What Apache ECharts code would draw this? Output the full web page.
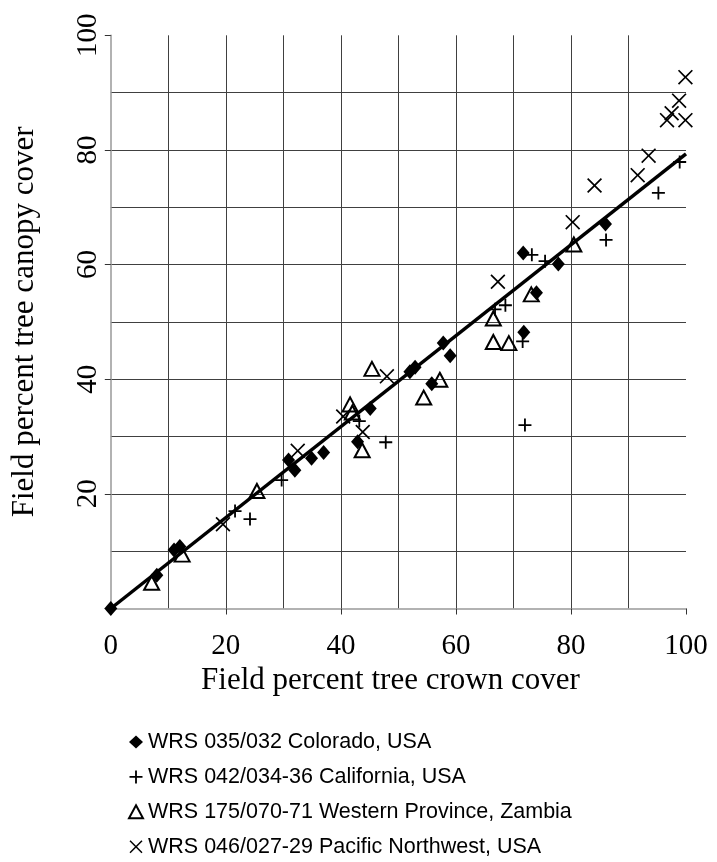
<!DOCTYPE html>
<html><head><meta charset="utf-8">
<script src="https://cdn.jsdelivr.net/npm/echarts@6/dist/echarts.min.js"></script>
<style>html,body{margin:0;padding:0;background:#fff}#c{width:717px;height:862px}</style>
</head><body><div id="c"></div>
<script>
// ---- data ----
const seriesNames = [
  'WRS 035/032 Colorado, USA',
  'WRS 042/034-36 California, USA',
  'WRS 175/070-71 Western Province, Zambia',
  'WRS 046/027-29 Pacific Northwest, USA'
];
const coloradoX = [0, 8, 11, 12, 30.9, 32, 34.9, 37, 42.9, 45.1, 52, 52.9, 55.8, 57.8, 59, 71.7, 71.8, 74, 77.8, 86];
const coloradoY = [0, 5.8, 10.2, 10.8, 25.9, 24.1, 26.2, 27.2, 29.1, 34.9, 41.3, 42.1, 39.2, 46.3, 44.1, 62, 48.2, 55.1, 60.1, 67.1];
const californiaX = [21.6, 24.2, 29.7, 43.2, 47.8, 66.8, 68.6, 71.6, 72, 73.2, 75.5, 86.1, 95.2, 98.9];
const californiaY = [17, 15.6, 22.4, 32.7, 29, 52.2, 52.9, 46.6, 32, 61.7, 60.6, 64.3, 72.5, 77.9];
const zambiaX = [7.1, 12.4, 25.4, 41.6, 42, 43.7, 45.4, 54.4, 57.2, 66.5, 66.5, 69.2, 73.1, 80.5];
const zambiaY = [4.5, 9.4, 20.5, 35.6, 34.2, 27.6, 41.8, 36.8, 39.9, 46.5, 50.6, 46.3, 54.8, 63.5];
const pnwX = [19.5, 32.5, 40.4, 43.8, 48, 67.3, 80.3, 84.1, 91.6, 93.5, 96.7, 97.5, 98.8, 99.9, 99.9];
const pnwY = [14.7, 27.5, 33.5, 30.8, 40.5, 57, 67.4, 73.8, 75.6, 79, 85.2, 86.4, 88.6, 85.2, 92.7];
const fitX = [0, 100];
const fitY = [0, 79.3];
const xTickLabels = ['0', '20', '40', '60', '80', '100'];
const yTickLabels = ['', '20', '40', '60', '80', '100'];
const xAxisTitle = 'Field percent tree crown cover';
const yAxisTitle = 'Field percent tree canopy cover';

const zip = (xs, ys) => xs.map((x, i) => [x, ys[i]]);

// ---- symbols / styles ----
const PLUS = 'path://M0,43L43,43L43,0L57,0L57,43L100,43L100,57L57,57L57,100L43,100L43,57L0,57Z';
const CROSS = 'path://M0,8L8,0L50,42L92,0L100,8L58,50L100,92L92,100L50,58L8,100L0,92L42,50Z';
const serif = 'Liberation Serif';
const sans = 'Liberation Sans';

const chart = echarts.init(document.getElementById('c'));
const axisCommon = {
  type: 'value', min: 0, max: 100, interval: 20,
  axisLine: { show: true, lineStyle: { color: '#999', width: 1.5 } },
  axisTick: { show: true, inside: false, length: 6, lineStyle: { color: '#333', width: 1 } },
  splitLine: { show: true, showMaxLine: false, showMinLine: false, lineStyle: { color: '#404040', width: 1 } },
  minorTick: { show: false, splitNumber: 2 },
  minorSplitLine: { show: true, lineStyle: { color: '#404040', width: 1 } },
  nameLocation: 'middle'
};

chart.setOption({
  animation: false,
  backgroundColor: '#fff',
  grid: { left: 110.8, right: 31, top: 35.3, bottom: 253.5, containLabel: false },
  legend: {
    orient: 'vertical', left: 128, top: 731, padding: 0, height: 140,
    itemWidth: 14, itemHeight: 13, itemGap: 12.9,
    textStyle: { fontFamily: sans, fontSize: 21.5, color: '#000', lineHeight: 21.5 },
    data: seriesNames
  },
  xAxis: Object.assign({}, axisCommon, {
    name: xAxisTitle, nameGap: 56,
    nameTextStyle: { fontFamily: serif, fontSize: 31, color: '#000', padding: [0, 16, 0, 0] },
    axisLabel: { margin: 23, fontFamily: serif, fontSize: 29, color: '#000',
      formatter: v => xTickLabels[Math.round(v / 20)] }
  }),
  yAxis: Object.assign({}, axisCommon, {
    name: yAxisTitle, nameGap: 70,
    nameTextStyle: { fontFamily: serif, fontSize: 31, color: '#000' },
    axisLabel: { margin: 8, rotate: 90, fontFamily: serif, fontSize: 29, color: '#000',
      formatter: v => yTickLabels[Math.round(v / 20)] }
  }),
  series: [
    { type: 'line', data: zip(fitX, fitY), symbol: 'none', silent: true, z: 1,
      lineStyle: { color: '#000', width: 3.5 } },
    { name: seriesNames[0], type: 'scatter', data: zip(coloradoX, coloradoY), z: 3,
      symbol: 'diamond', symbolSize: [13, 15], itemStyle: { color: '#000', opacity: 1 } },
    { name: seriesNames[1], type: 'scatter', data: zip(californiaX, californiaY), z: 3,
      symbol: PLUS, symbolSize: 13, itemStyle: { color: '#000', opacity: 1 } },
    { name: seriesNames[2], type: 'scatter', data: zip(zambiaX, zambiaY), z: 3,
      symbol: 'triangle', symbolSize: [15, 14],
      itemStyle: { color: 'rgba(255,255,255,0)', borderColor: '#000', borderWidth: 2, opacity: 1 } },
    { name: seriesNames[3], type: 'scatter', data: zip(pnwX, pnwY), z: 3,
      symbol: CROSS, symbolSize: 15, itemStyle: { color: '#000', opacity: 1 } }
  ]
});
</script></body></html>
